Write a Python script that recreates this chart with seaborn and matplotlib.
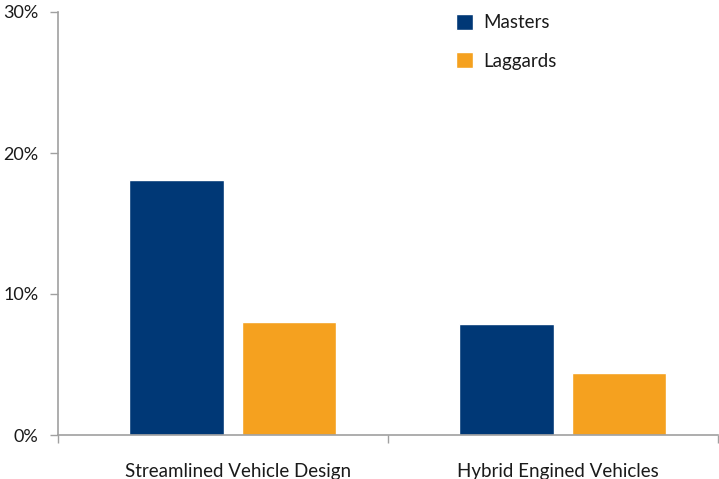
import matplotlib
matplotlib.use("Agg")
import matplotlib.pyplot as plt
import matplotlib.transforms as mtransforms
import seaborn as sns
import pandas as pd
from matplotlib.ticker import FixedLocator

categories = ["Streamlined Vehicle Design", "Hybrid Engined Vehicles"]
series = ["Masters", "Laggards"]
masters = [18.1, 7.9]
laggards = [8.0, 4.4]
yticks = [0, 10, 20, 30]
ytick_labels = ["0%", "10%", "20%", "30%"]

df = pd.DataFrame({
    "category": categories * 2,
    "group": [series[0]] * 2 + [series[1]] * 2,
    "value": masters + laggards,
})

sns.set_style("white")
plt.rcParams["font.family"] = ["Lato", "DejaVu Sans"]

fig = plt.figure(figsize=(7.19, 4.79), dpi=100)
ax = fig.add_axes([58 / 719, 1 - 435 / 479, 660 / 719, (435 - 12) / 479])

palette = {"Masters": "#003876", "Laggards": "#F5A11F"}
sns.barplot(data=df, x="category", y="value", hue="group", order=categories,
            hue_order=series, palette=palette, width=0.682, gap=0.161,
            saturation=1, ax=ax, legend=True)

x0, x1 = -0.53, 1.47
ax.set_xlim(x0, x1)
ax.set_ylim(0, 30)
ax.set_xlabel("")
ax.set_ylabel("")
ax.set_yticks(yticks)
ax.set_yticklabels(ytick_labels, fontsize=13, color="#1a1a1a")
ax.tick_params(axis="y", length=6, width=1, color="#a0a0a0", pad=8, direction="out", left=True)
ax.tick_params(axis="x", which="major", length=0, pad=20, labelsize=13.5, labelcolor="#1a1a1a")
ax.xaxis.set_minor_locator(FixedLocator([x0, (x0 + x1) / 2, x1]))
ax.tick_params(axis="x", which="minor", length=6, width=1, color="#a0a0a0", direction="out", bottom=True)

offsets = [5.5, -5.5]
for lab, dx in zip(ax.get_xticklabels(), offsets):
    lab.set_transform(lab.get_transform() + mtransforms.ScaledTranslation(dx / 100, 0, fig.dpi_scale_trans))

for s in ["top", "right"]:
    ax.spines[s].set_visible(False)
for s in ["left", "bottom"]:
    ax.spines[s].set_color("#a0a0a0")
    ax.spines[s].set_linewidth(1.2)

leg = ax.legend(loc="upper left", bbox_to_anchor=(0.578, 1.035), frameon=False,
                fontsize=13.5, handlelength=0.9, handleheight=0.9,
                labelspacing=1.12, handletextpad=0.55)
for t in leg.get_texts():
    t.set_color("#1a1a1a")

fig.savefig("out.png", dpi=100)
